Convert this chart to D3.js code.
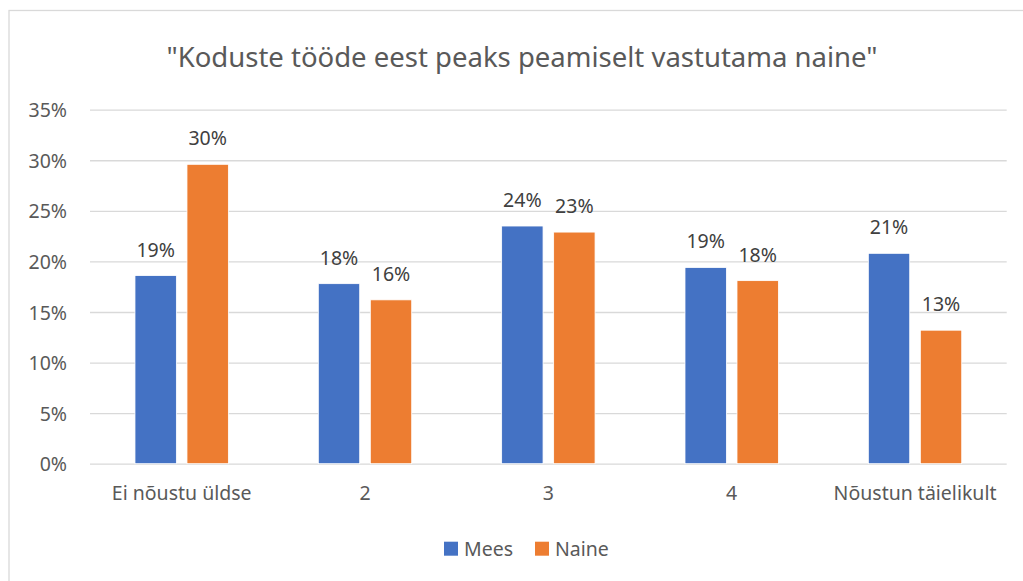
<!DOCTYPE html>
<html><head><meta charset="utf-8">
<script src="https://cdn.jsdelivr.net/npm/d3@7"></script>
<style>
html,body{margin:0;padding:0;background:#fff;}
svg text{font-family:"Noto Sans","Open Sans",sans-serif;}
</style></head>
<body>
<script>
const categories = ["Ei nõustu üldse", "2", "3", "4", "Nõustun täielikult"];
const seriesNames = ["Mees", "Naine"];
const mees = [18.6, 17.8, 23.5, 19.4, 20.8];
const naine = [29.6, 16.2, 22.9, 18.1, 13.2];
const yTicks = [0, 5, 10, 15, 20, 25, 30, 35];
const colors = ["#4472C4", "#ED7D31"];
const title = "\"Koduste tööde eest peaks peamiselt vastutama naine\"";

const W = 1023, H = 581;
const svg = d3.select("body").append("svg").attr("width", W).attr("height", H);

// chart frame
svg.append("rect").attr("x", 9).attr("y", 10.5).attr("width", W + 10).attr("height", H + 10)
  .attr("fill", "#fff").attr("stroke", "#d9d9d9").attr("stroke-width", 1.3);

svg.append("text").attr("x", 522).attr("y", 67).attr("text-anchor", "middle")
  .attr("font-size", 27.5).attr("fill", "#595959").text(title);

const x0 = d3.scaleBand().domain(categories).range([90, 1006.7]).padding(0);
const groupW = 93.4;
const x1 = d3.scaleBand().domain(seriesNames).range([0, groupW]).paddingInner(0.204).paddingOuter(0);
const y = d3.scaleLinear().domain([0, 35]).range([463.7, 109.7]);

const fs = 19.5;
// gridlines
const yAxis = d3.axisLeft(y).tickValues(yTicks).tickFormat(d => d + "%").tickSize(-(1006.7 - 90)).tickPadding(23);
const ga = svg.append("g").attr("transform", "translate(90,0)").call(yAxis);
ga.select(".domain").remove();
ga.selectAll(".tick line").attr("stroke", "#d9d9d9").attr("stroke-width", 1.3);
ga.selectAll(".tick text").attr("fill", "#595959").attr("font-size", fs)
  .attr("font-family", "\"Noto Sans\",sans-serif").attr("dy", "0.36em");

// x axis labels
const xAxis = d3.axisBottom(x0).tickSize(0).tickPadding(22);
const gx = svg.append("g").attr("transform", "translate(0,463.7)").call(xAxis);
gx.select(".domain").remove();
gx.selectAll(".tick text").attr("fill", "#595959").attr("font-size", fs)
  .attr("font-family", "\"Noto Sans\",sans-serif");

const data = categories.map((c, i) => ({ cat: c, vals: [{ s: "Mees", v: mees[i] }, { s: "Naine", v: naine[i] }] }));
const off = (x0.bandwidth() - groupW) / 2;
const groups = svg.append("g").selectAll("g").data(data).join("g")
  .attr("transform", d => `translate(${x0(d.cat) + off},0)`);
groups.selectAll("rect").data(d => d.vals).join("rect")
  .attr("x", d => x1(d.s)).attr("width", x1.bandwidth())
  .attr("y", d => y(d.v)).attr("height", d => y(0) - y(d.v))
  .attr("fill", (d, i) => colors[i]).attr("stroke", "#fff").attr("stroke-width", 0.8);
groups.selectAll("text").data(d => d.vals).join("text")
  .attr("x", d => x1(d.s) + x1.bandwidth() / 2).attr("y", d => y(d.v) - 19)
  .attr("text-anchor", "middle").attr("font-size", fs).attr("fill", "#404040")
  .text(d => Math.round(d.v) + "%");

// legend
const legend = svg.append("g");
const lx = [444, 535];
seriesNames.forEach((s, i) => {
  legend.append("rect").attr("x", lx[i]).attr("y", 541.7).attr("width", 14).attr("height", 14).attr("fill", colors[i]);
  legend.append("text").attr("x", lx[i] + 20).attr("y", 556).attr("font-size", fs).attr("fill", "#595959").text(s);
});
</script>
</body></html>
